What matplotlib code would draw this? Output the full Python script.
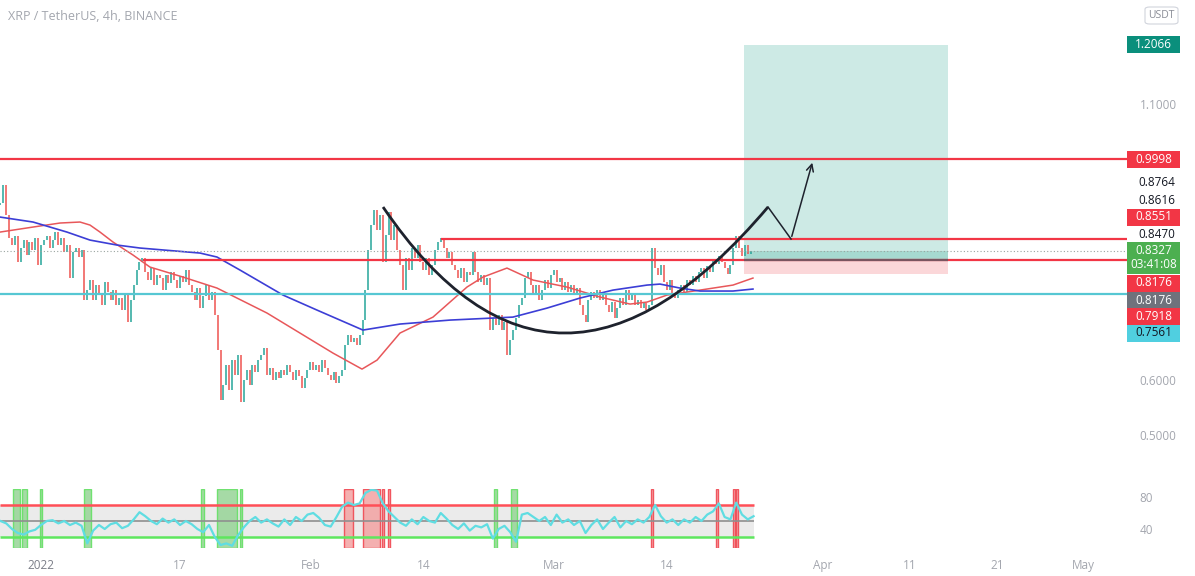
import matplotlib
matplotlib.use("Agg")
import matplotlib.pyplot as plt
from matplotlib.path import Path
from matplotlib.patches import PathPatch, Rectangle, FancyBboxPatch

plt.rcParams['font.family'] = ['Open Sans', 'DejaVu Sans']

# ---------------- data (x = days since 2022-01-01) ----------------
title = "XRP / TetherUS, 4h, BINANCE"
first_candle_day = -4.667
candle_step = 1 / 3
first_open = 0.9170
closes = [
    0.9203, 0.9529, 0.8985, 0.8569, 0.8442, 0.8605, 0.8134, 0.8388, 0.8532, 0.8261,
    0.8496, 0.8351, 0.8569, 0.8080, 0.8442, 0.8532, 0.8605, 0.8388, 0.8532, 0.8677,
    0.8442, 0.8569, 0.8315, 0.8442, 0.7844, 0.8315, 0.8388, 0.8225, 0.8351, 0.7445,
    0.7626, 0.7808, 0.7445, 0.7717, 0.7536, 0.7355, 0.7771, 0.7590, 0.7445, 0.7626,
    0.7355, 0.7481, 0.7264, 0.7536, 0.7047, 0.7445, 0.7717, 0.7989, 0.8134, 0.8207,
    0.7953, 0.7808, 0.8025, 0.7717, 0.7898, 0.7844, 0.7626, 0.7898, 0.7753, 0.7953,
    0.7808, 0.7663, 0.7880, 0.7771, 0.7989, 0.7717, 0.7590, 0.7445, 0.7663, 0.7300,
    0.7518, 0.7717, 0.7445, 0.7590, 0.7174, 0.6539, 0.5633, 0.5905, 0.6268, 0.5815,
    0.6358, 0.6086, 0.6449, 0.5597, 0.5996, 0.6177, 0.5905, 0.6268, 0.6141, 0.6358,
    0.6449, 0.6576, 0.6086, 0.6213, 0.5996, 0.6141, 0.6032, 0.6177, 0.6086, 0.6268,
    0.6141, 0.5996, 0.6177, 0.6068, 0.5851, 0.6032, 0.6177, 0.6322, 0.6177, 0.6268,
    0.6141, 0.6358, 0.6213, 0.6086, 0.5996, 0.6141, 0.5942, 0.6068, 0.6177, 0.6630,
    0.6811, 0.6684, 0.6757, 0.6630, 0.6811, 0.7083, 0.7626, 0.8351, 0.8804, 0.9076,
    0.8714, 0.8985, 0.8134, 0.8623, 0.9040, 0.8532, 0.8804, 0.8351, 0.8080, 0.7626,
    0.8207, 0.7989, 0.8388, 0.8207, 0.8442, 0.8134, 0.7989, 0.8207, 0.7898, 0.8080,
    0.8351, 0.8496, 0.8569, 0.8388, 0.8207, 0.8315, 0.8080, 0.7989, 0.7844, 0.8025,
    0.7771, 0.7953, 0.7898, 0.8315, 0.7953, 0.7771, 0.7898, 0.7717, 0.7844, 0.6902,
    0.7119, 0.6992, 0.7174, 0.6902, 0.7047, 0.6449, 0.6720, 0.6902, 0.7119, 0.7355,
    0.7481, 0.7844, 0.7953, 0.7717, 0.7536, 0.7717, 0.7445, 0.7626, 0.7808, 0.7663,
    0.7898, 0.7989, 0.7771, 0.7844, 0.7626, 0.7771, 0.7590, 0.7717, 0.7536, 0.7663,
    0.7355, 0.7174, 0.7047, 0.7445, 0.7590, 0.7481, 0.7626, 0.7445, 0.7536, 0.7355,
    0.7228, 0.7409, 0.7119, 0.7300, 0.7481, 0.7355, 0.7626, 0.7445, 0.7536, 0.7355,
    0.7445, 0.7300, 0.7391, 0.7264, 0.7355, 0.8388, 0.8025, 0.7898, 0.8080, 0.7771,
    0.7626, 0.7808, 0.7536, 0.7481, 0.7626, 0.7717, 0.7590, 0.7808, 0.7717, 0.7880,
    0.7771, 0.7953, 0.8025, 0.7844, 0.8062, 0.7953, 0.8170, 0.8098, 0.8243, 0.8134,
    0.8025, 0.7917, 0.8080, 0.8388, 0.8605, 0.8388, 0.8243, 0.8442, 0.8279, 0.8327,
]

red_ma_days = [-4.72, -0.92, 2.19, 4.49, 5.64, 6.79, 8.29, 10.59, 12.54, 16.34, 20.25,
               26.01, 29.80, 33.60, 36.94, 38.67, 41.31, 45.11, 49.02, 50.86, 53.62,
               56.62, 60.53, 64.33, 67.78, 69.74, 72.04, 75.83, 79.63, 81.93]
red_ma_vals = [0.8677, 0.8768, 0.8841, 0.8859, 0.8804, 0.8677, 0.8496, 0.8261, 0.8043,
               0.7862, 0.7663, 0.7210, 0.6848, 0.6485, 0.6195, 0.6358, 0.6848, 0.7137,
               0.7681, 0.7862, 0.8025, 0.7808, 0.7681, 0.7500, 0.7373, 0.7409, 0.7536,
               0.7626, 0.7717, 0.7844]
blue_ma_days = [-4.72, -0.92, 2.99, 5.64, 8.75, 11.39, 18.30, 20.25, 22.90, 27.85, 31.76,
                37.05, 41.31, 47.07, 54.31, 58.23, 62.03, 65.82, 69.74, 71.23, 73.53,
                75.83, 79.63, 81.93]
blue_ma_vals = [0.8949, 0.8859, 0.8677, 0.8532, 0.8442, 0.8388, 0.8297, 0.8225, 0.7989,
                0.7536, 0.7264, 0.6902, 0.7011, 0.7083, 0.7137, 0.7300, 0.7482, 0.7626,
                0.7717, 0.7735, 0.7663, 0.7609, 0.7609, 0.7645]

# horizontal levels: (price, start day or None for full width)
resistance_top = 0.9998
resistance_mid = 0.8551
resistance_mid_start = 46.03
support_red = 0.8176
support_red_start = 11.74
support_cyan = 0.7561
last_price = 0.8327

# long position tool
pos_start, pos_end = 80.9, 104.37
pos_target, pos_entry, pos_stop = 1.2066, 0.8176, 0.7918

# cup arc anchors (start, control, end) and projected path
cup_days = [39.36, 59.09, 83.66]
cup_prices = [0.9131, 0.4564, 0.9131]
path_days = [83.66, 86.31, 88.84]
path_prices = [0.9131, 0.8551, 0.9982]

# RSI (16h samples)
rsi_first_day = -4.667
rsi_step = 2 / 3
rsi = [50, 47, 40, 35, 33, 37, 39, 45, 50, 51, 47, 50, 45, 48, 44, 22, 38, 45, 40, 46,
       48, 41, 44, 52, 61, 56, 50, 46, 53, 48, 52, 45, 50, 46, 40, 36, 45, 30, 20, 22,
       19, 32, 42, 50, 55, 48, 52, 47, 43, 52, 45, 55, 50, 58, 60, 54, 45, 43, 55, 68,
       73, 70, 72, 85, 89, 88, 72, 62, 55, 48, 44, 52, 46, 55, 50, 48, 60, 53, 45, 40,
       47, 38, 44, 42, 46, 28, 40, 44, 36, 24, 58, 60, 55, 50, 55, 45, 58, 48, 52, 45,
       50, 35, 45, 52, 40, 48, 55, 42, 50, 46, 52, 48, 55, 70, 56, 48, 52, 45, 52, 48,
       55, 50, 58, 62, 72, 55, 52, 73, 58, 52, 56]
rsi_upper, rsi_mid, rsi_lower = 70, 50, 30
oversold_spans = [(-3.22, -2.42), (-2.19, -1.61), (-0.12, 0.12), (4.95, 5.75),
                  (18.41, 18.76), (20.25, 22.55), (22.90, 23.13), (52.13, 52.47),
                  (54.09, 54.78)]
overbought_spans = [(34.87, 35.90), (37.05, 39.01), (39.24, 39.47), (39.93, 40.16),
                    (70.20, 70.40), (77.68, 77.90), (79.63, 79.86), (79.98, 80.20)]

tick_days = [0, 16, 31, 44, 59, 72, 90, 100, 110, 120]
tick_labels = ['2022', '17', 'Feb', '14', 'Mar', '14', 'Apr', '11', '21', 'May']
price_ticks = [0.5, 0.6, 1.1]
rsi_ticks = [40, 80]

# ---------------- figure ----------------
W, H = 1195, 576
fig = plt.figure(figsize=(W / 100, H / 100), dpi=100)
fig.patch.set_facecolor('white')
axr_px = 1127
ax = fig.add_axes([0, 1 - 480 / H, axr_px / W, 480 / H])
ar = fig.add_axes([0, 1 - 548 / H, axr_px / W, 59 / H])

x0, x1 = -41 / 8.69, (axr_px - 41) / 8.69
for a in (ax, ar):
    a.set_xlim(x0, x1)
    for s in a.spines.values():
        s.set_visible(False)
    a.set_facecolor('none')
ax.set_ylim(0.4186, 1.2881)
ar.set_ylim(16.25, 90)

GREY = '#a3a6ae'
# price tick labels (right)
ax.yaxis.tick_right()
ax.set_yticks(price_ticks)
ax.set_yticklabels([f"{v:.4f}" for v in price_ticks])
ax.tick_params(axis='y', length=0, pad=9, labelsize=8.5, labelcolor=GREY)
ax.set_xticks([])
ar.yaxis.tick_right()
ar.set_yticks(rsi_ticks)
ar.tick_params(axis='y', length=0, pad=9, labelsize=8.5, labelcolor=GREY)
ar.set_xticks(tick_days)
ar.set_xticklabels(tick_labels)
ar.tick_params(axis='x', length=0, pad=8, labelsize=8.5, labelcolor=GREY)
ar.get_xticklabels()[0].set_color('#7b7e88')

# position tool
w = pos_end - pos_start
ax.add_patch(Rectangle((pos_start, pos_entry), w, pos_target - pos_entry,
                       facecolor='#cdeae5', edgecolor='none', zorder=1))
ax.add_patch(Rectangle((pos_start, pos_entry), w, last_price - pos_entry,
                       facecolor='#a6d9d0', edgecolor='none', zorder=1))
ax.add_patch(Rectangle((pos_start, pos_stop), w, pos_entry - pos_stop,
                       facecolor='#fbd7d9', edgecolor='none', zorder=1))

# candles
times = [first_candle_day + i * candle_step for i in range(len(closes))]
opens = [first_open] + closes[:-1]
up_t, up_lo, up_hi, dn_t, dn_lo, dn_hi = [], [], [], [], [], []
for t, o, c in zip(times, opens, closes):
    if c >= o:
        up_t.append(t); up_lo.append(o); up_hi.append(c)
    else:
        dn_t.append(t); dn_lo.append(c); dn_hi.append(o)
ax.vlines(up_t, up_lo, up_hi, colors='#26a69a', lw=1.1, zorder=2)
ax.vlines(dn_t, dn_lo, dn_hi, colors='#ef5350', lw=1.1, zorder=2)

# moving averages
ax.plot(red_ma_days, red_ma_vals, color='#e8575a', lw=1.1, zorder=3)
ax.plot(blue_ma_days, blue_ma_vals, color='#3c3ed6', lw=1.2, zorder=3)

# levels
RED = '#f23645'
ax.hlines(resistance_top, x0, x1, colors=RED, lw=1.6, zorder=4)
ax.hlines(resistance_mid, resistance_mid_start, x1, colors=RED, lw=1.6, zorder=4)
ax.hlines(support_red, support_red_start, x1, colors=RED, lw=1.6, zorder=4)
ax.hlines(pos_entry, pos_start, pos_end, colors='#7a5560', lw=1.6, zorder=4)
ax.hlines(support_cyan, x0, x1, colors='#56c7d3', lw=1.6, zorder=4)
ax.hlines(last_price, x0, x1, colors='#9aa4a0', lw=0.8, linestyles=(0, (1, 2)), zorder=4)

# cup arc
cup = Path(list(zip(cup_days, cup_prices)), [Path.MOVETO, Path.CURVE3, Path.CURVE3])
ax.add_patch(PathPatch(cup, facecolor='none', edgecolor='#1e222d', lw=2.0, zorder=5))
ax.plot(path_days[:2], path_prices[:2], color='#1e222d', lw=1.1, zorder=5)
ax.annotate('', xy=(path_days[2], path_prices[2]), xytext=(path_days[1], path_prices[1]),
            arrowprops=dict(arrowstyle='->,head_length=0.5,head_width=0.25',
                            color='#1e222d', lw=1.1), zorder=5)

# RSI pane
rsi_days = [rsi_first_day + k * rsi_step for k in range(len(rsi))]
r0, r1 = rsi_days[0], rsi_days[-1]
ar.fill_between([r0, r1], rsi_lower, rsi_upper, color='#ebebeb', lw=0, zorder=1)
for a0, a1 in oversold_spans:
    ar.axvspan(a0, a1, facecolor='#97d497', edgecolor='#5fe05f', lw=1.0, alpha=0.85, zorder=2)
for a0, a1 in overbought_spans:
    ar.axvspan(a0, a1, facecolor='#f3a2a2', edgecolor='#f0404a', lw=1.0, alpha=0.85, zorder=2)
ar.hlines(rsi_upper, r0, r1, colors='#ff4f57', lw=1.8, zorder=3)
ar.hlines(rsi_mid, r0, r1, colors='#8f8f8f', lw=1.2, zorder=3)
ar.hlines(rsi_lower, r0, r1, colors='#5ee65e', lw=1.8, zorder=3)
ar.plot(rsi_days, rsi, color='#5fdde2', lw=1.6, zorder=4)

# title
fig.text(8 / W, 1 - 16 / H, title, ha='left', va='center', fontsize=9, color='#a3a6ae')

# USDT badge
fig.patches.append(FancyBboxPatch((1145 / W, 1 - 24 / H), 33 / W, 17 / H,
                                  boxstyle='round,pad=0,rounding_size=0.004',
                                  transform=fig.transFigure, facecolor='white',
                                  edgecolor='#d1d4dc', lw=0.8))
fig.text(1161.5 / W, 1 - 15.5 / H, 'USDT', ha='center', va='center', fontsize=7.5, color='#8a8d96')

# right-hand price tags: (text, face, text colour, centre y px, height px)
tags = [
    (f"{pos_target:.4f}", '#0a8f7c', 'white', 44, 17),
    (f"{resistance_top:.4f}", RED, 'white', 159, 17),
    (f"{resistance_mid:.4f}", RED, 'white', 217, 17),
    (f"{support_red:.4f}", RED, 'white', 283, 17),
    (f"{pos_entry:.4f}", '#6f727c', 'white', 300, 17),
    (f"{pos_stop:.4f}", RED, 'white', 316, 17),
    (f"{support_cyan:.4f}", '#50cfe0', '#131722', 333, 17),
]
for txt, face, col, yc, h in tags:
    fig.patches.append(Rectangle((1127 / W, 1 - (yc + h / 2) / H), 53 / W, h / H,
                                 transform=fig.transFigure, facecolor=face, edgecolor='none'))
    fig.text(1153.5 / W, 1 - yc / H, txt, ha='center', va='center', fontsize=8.5, color=col)

fig.patches.append(Rectangle((1127 / W, 1 - 274 / H), 53 / W, 32 / H,
                             transform=fig.transFigure, facecolor='#4caf50', edgecolor='none'))
fig.text(1153.5 / W, 1 - 250 / H, f"{last_price:.4f}", ha='center', va='center', fontsize=8.5, color='white')
fig.text(1153.5 / W, 1 - 265 / H, '03:41:08', ha='center', va='center', fontsize=8.5, color='white')

plain_tags = [("0.8764", 183), ("0.8616", 200), ("0.8470", 234)]
for txt, yc in plain_tags:
    fig.text(1138 / W, 1 - yc / H, txt, ha='left', va='center', fontsize=8.5, color='#131722')

fig.savefig('out.png', dpi=100, facecolor='white')
